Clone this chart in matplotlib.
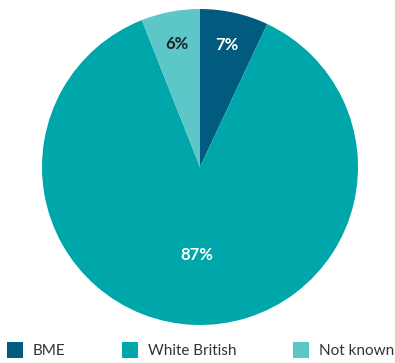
import numpy as np
import matplotlib
matplotlib.use('Agg')
import matplotlib.pyplot as plt
from matplotlib.patches import Rectangle

plt.rcParams['font.family'] = ['Lato', 'DejaVu Sans']

# data
labels = ['BME', 'White British', 'Not known']
shares = [7, 87, 6]
colours = ['#005b7f', '#00a7aa', '#5cc6c9']
label_colours = ['white', 'white', '#222222']
label_dist = [0.79, 0.56, 0.79]

W, H = 395, 363
fig = plt.figure(figsize=(W / 100, H / 100), dpi=100)
ax = fig.add_axes([42 / W, 38 / H, 316 / W, 316 / H])

wedges, _ = ax.pie(shares, colors=colours, startangle=90, counterclock=False,
                   wedgeprops=dict(linewidth=0))

for w, s, c, d in zip(wedges, shares, label_colours, label_dist):
    ang = np.deg2rad((w.theta1 + w.theta2) / 2.0)
    ax.text(d * np.cos(ang), d * np.sin(ang), '%d%%' % s, ha='center', va='center',
            color=c, fontsize=12, fontweight='bold')

ax.set_xlim(-1.0, 1.0)
ax.set_ylim(-1.0, 1.0)
ax.set_aspect('equal')

# legend, laid out by hand along the bottom
leg_x = [7, 122, 293]
for x, lab, c in zip(leg_x, labels, colours):
    fig.patches.append(Rectangle((x / W, 5 / H), 16 / W, 16 / H, facecolor=c,
                                 edgecolor='none', transform=fig.transFigure))
    fig.text((x + 26) / W, 12 / H, lab, ha='left', va='center', fontsize=11,
             color='#333333')

plt.savefig('out.png', dpi=100)
